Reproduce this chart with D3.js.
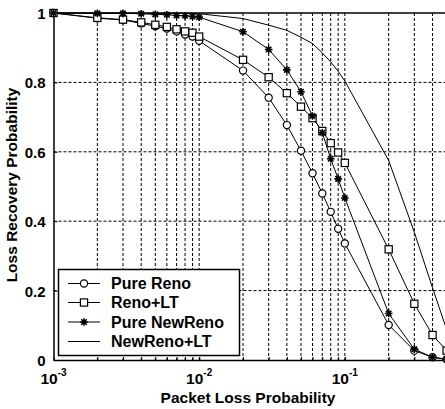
<!DOCTYPE html>
<html><head><meta charset="utf-8">
<script src="https://cdn.jsdelivr.net/npm/d3@7"></script>
<style>body{margin:0;background:#fff}svg{display:block}text{font-family:"Liberation Sans",Arial,sans-serif;font-weight:bold;fill:#000}</style>
</head><body><svg id="c" width="445" height="409"></svg>
<script>
const lossProb = [0.001,0.002,0.003,0.004,0.005,0.006,0.007,0.008,0.009,0.01,0.02,0.03,0.04,0.05,0.06,0.07,0.08,0.09,0.1,0.2,0.3,0.4,0.5];
const pureReno    = [1.000,0.985,0.980,0.970,0.962,0.955,0.947,0.938,0.932,0.920,0.834,0.756,0.677,0.603,0.538,0.480,0.427,0.378,0.336,0.101,0.027,0.008,0.002];
const renoLT      = [1.000,0.986,0.981,0.973,0.966,0.960,0.953,0.947,0.943,0.932,0.865,0.815,0.769,0.730,0.697,0.660,0.625,0.598,0.568,0.319,0.162,0.072,0.027];
const pureNewReno = [1.000,0.999,0.999,0.998,0.996,0.995,0.993,0.992,0.990,0.988,0.946,0.895,0.836,0.773,0.703,0.655,0.580,0.522,0.467,0.134,0.031,0.008,0.002];
const newRenoLT   = [1.000,1.000,1.000,0.999,0.999,0.999,0.999,0.999,0.999,0.998,0.984,0.965,0.950,0.930,0.912,0.885,0.859,0.832,0.804,0.575,0.368,0.208,0.088];
const seriesNames = ["Pure Reno","Reno+LT","Pure NewReno","NewReno+LT"];
const markerTypes = ["circle","square","star","none"];
const yTicks = [0,0.2,0.4,0.6,0.8,1];
const yTickLabels = ["0","0.2","0.4","0.6","0.8","1"];
const xMajor = [0.001,0.01,0.1];
const xMajorExp = ["-3","-2","-1"];

const svg = d3.select("#c");
const L=53.5, R=490.5, T=13, B=360;
const x = d3.scaleLog().domain([0.001,1]).range([L,R]);
const y = d3.scaleLinear().domain([0,1]).range([B,T]);

// grid
const minor = [];
for (let e=-3;e<0;e++) for (let m=1;m<10;m++){ const v=m*Math.pow(10,e); if(v>0.001) minor.push(v); }
const g = svg.append("g");
g.selectAll("line.vg").data(minor).join("line")
  .attr("x1",d=>x(d)).attr("x2",d=>x(d)).attr("y1",T).attr("y2",B)
  .attr("stroke","#000").attr("stroke-width",1).attr("stroke-dasharray","3,2");
g.selectAll("line.hg").data(yTicks.filter(v=>v>0&&v<1)).join("line")
  .attr("x1",L).attr("x2",R).attr("y1",d=>y(d)).attr("y2",d=>y(d))
  .attr("stroke","#000").attr("stroke-width",1).attr("stroke-dasharray","3,2");

// axes via d3
const yAxis = d3.axisLeft(y).tickValues(yTicks).tickFormat((d,i)=>yTickLabels[i]).tickSizeInner(-4).tickSizeOuter(0).tickPadding(8);
const ya = svg.append("g").attr("transform",`translate(${L},0)`).call(yAxis);
ya.select(".domain").attr("stroke-width",1.5);
ya.selectAll("text").attr("font-size",15).attr("font-family","Liberation Sans, Arial").attr("font-weight","bold").attr("dy","0.36em");
const xAxis = d3.axisBottom(x).tickValues(minor.concat(xMajor)).tickFormat(()=>"").tickSizeInner(-3).tickSizeOuter(0);
const xa = svg.append("g").attr("transform",`translate(0,${B})`).call(xAxis);
xa.select(".domain").attr("stroke-width",1.5);
// top border
svg.append("line").attr("x1",L).attr("x2",R).attr("y1",T).attr("y2",T).attr("stroke","#000").attr("stroke-width",1.5);

// x major labels 10^e
xMajor.forEach((v,i)=>{
  const t = svg.append("text").attr("x",x(v)).attr("y",384).attr("text-anchor","middle").attr("font-size",15.5);
  t.append("tspan").text("10");
  t.append("tspan").text(xMajorExp[i]).attr("font-size",10).attr("dy",-8);
});

// titles
svg.append("text").attr("x",248).attr("y",403).attr("text-anchor","middle").attr("font-size",15.5).text("Packet Loss Probability");
svg.append("text").attr("transform","translate(17,185) rotate(-90)").attr("text-anchor","middle").attr("font-size",15.5).text("Loss Recovery Probability");

// series
const allSeries = [pureReno,renoLT,pureNewReno,newRenoLT];
const line = d3.line().x((d,i)=>x(lossProb[i])).y(d=>y(d));
svg.append("defs").append("clipPath").attr("id","pc").append("rect").attr("x",L).attr("y",T-1).attr("width",R-L).attr("height",B-T+2);
const plot = svg.append("g");
allSeries.forEach((s,k)=>{
  plot.append("path").datum(s).attr("d",line).attr("fill","none").attr("stroke","#000").attr("stroke-width",1).attr("clip-path","url(#pc)");
});
function drawMarker(sel, type, cx, cy){
  if(type==="circle") sel.append("circle").attr("cx",cx).attr("cy",cy).attr("r",3.6).attr("fill","#fff").attr("stroke","#000").attr("stroke-width",1.2);
  else if(type==="square") sel.append("rect").attr("x",cx-3.6).attr("y",cy-3.6).attr("width",7.2).attr("height",7.2).attr("fill","#fff").attr("stroke","#000").attr("stroke-width",1.2);
  else if(type==="star"){
    const r=3.8, q=r*0.72;
    sel.append("path").attr("d",`M${cx-r},${cy}H${cx+r}M${cx},${cy-r}V${cy+r}M${cx-q},${cy-q}L${cx+q},${cy+q}M${cx-q},${cy+q}L${cx+q},${cy-q}`)
      .attr("stroke","#000").attr("stroke-width",1.6).attr("fill","none");
    sel.append("circle").attr("cx",cx).attr("cy",cy).attr("r",1.6).attr("fill","#000");
  }
}
allSeries.forEach((s,k)=>{
  if(markerTypes[k]==="none") return;
  const mg = plot.append("g");
  s.forEach((v,i)=>drawMarker(mg, markerTypes[k], x(lossProb[i]), y(v)));
});

// legend
const lg = svg.append("g");
lg.append("rect").attr("x",58.5).attr("y",269.5).attr("width",181).attr("height",86).attr("fill","#fff").attr("stroke","#000").attr("stroke-width",1.5);
const rowY = [283.5,302.5,322,341.5];
seriesNames.forEach((n,k)=>{
  lg.append("line").attr("x1",68).attr("x2",100).attr("y1",rowY[k]).attr("y2",rowY[k]).attr("stroke","#000").attr("stroke-width",1);
  drawMarker(lg, markerTypes[k], 84, rowY[k]);
  lg.append("text").attr("x",111).attr("y",rowY[k]).attr("dy","0.36em").attr("font-size",16).text(n);
});
</script></body></html>
